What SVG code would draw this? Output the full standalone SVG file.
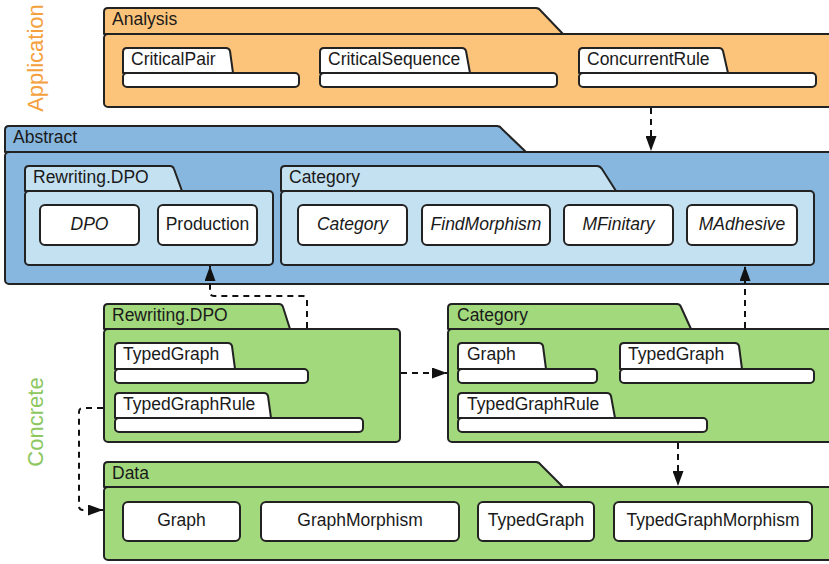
<svg xmlns="http://www.w3.org/2000/svg" width="829" height="564" viewBox="0 0 829 564">
<defs>
<marker id="ah" viewBox="0 0 15 11" refX="15" refY="5.5" markerWidth="15" markerHeight="11" markerUnits="userSpaceOnUse" orient="auto">
<path d="M0,0 L15,5.5 L0,11 Z" fill="#111"/>
</marker>
<style>
.s{stroke:#222;stroke-width:2;stroke-linejoin:round}
.or{fill:#FCC47B}
.bl{fill:#87B7DE}
.lb{fill:#C4E1F2}
.gr{fill:#A2D97D}
.wh{fill:#fff}
text{font-family:"Liberation Sans",Arial,sans-serif;font-size:17.5px;fill:#1a1a1a}
.it{font-style:italic}
.c{text-anchor:middle}
.side{font-size:22px}
.con{fill:none;stroke:#111;stroke-width:2;stroke-dasharray:6,5}
</style>
</defs>
<text class="side" transform="translate(43,58) rotate(-90)" text-anchor="middle" style="fill:#F5A03C">Application</text>
<text class="side" transform="translate(43,422) rotate(-90)" text-anchor="middle" style="fill:#8CC760">Concrete</text>

<g id="Analysis">
<path class="s or" d="M104,34 V12 Q104,8 108,8 H536 Q539,8 541,11 L563,34 Z"/>
<rect class="s or" x="104" y="34" width="740" height="73" rx="4"/>
<text x="112" y="25">Analysis</text>
</g>
<g id="CriticalPair">
<path class="s wh" d="M123,73 V52 Q123,48 127,48 H226 Q229,48 230,51 L233,73 Z"/>
<rect class="s wh" x="123" y="73" width="176" height="14" rx="4"/>
<text x="131" y="65">CriticalPair</text>
</g>
<g id="CriticalSequence">
<path class="s wh" d="M320,73 V52 Q320,48 324,48 H462 Q465,48 466,51 L470,73 Z"/>
<rect class="s wh" x="320" y="73" width="237" height="14" rx="4"/>
<text x="328" y="65">CriticalSequence</text>
</g>
<g id="ConcurrentRule">
<path class="s wh" d="M579,73 V52 Q579,48 583,48 H719 Q722,48 723,51 L728,73 Z"/>
<rect class="s wh" x="579" y="73" width="237" height="14" rx="4"/>
<text x="587" y="65">ConcurrentRule</text>
</g>

<g id="Abstract">
<path class="s bl" d="M5,152 V130 Q5,126 9,126 H497 Q500,126 502,129 L526,152 Z"/>
<rect class="s bl" x="5" y="152" width="840" height="132" rx="4"/>
<text x="13" y="143">Abstract</text>
</g>
<g id="Abstract.Rewriting.DPO">
<path class="s lb" d="M25,191 V170 Q25,166 29,166 H170 Q173,166 174,169 L182,191 Z"/>
<rect class="s lb" x="25" y="191" width="248" height="74" rx="4"/>
<text x="33" y="183">Rewriting.DPO</text>
</g>
<g id="DPO">
<rect class="s wh" x="40" y="205" width="99" height="40" rx="5"/>
<text class="c it" x="89.5" y="230">DPO</text>
</g>
<g id="Production">
<rect class="s wh" x="158" y="205" width="99" height="40" rx="5"/>
<text class="c" x="207.5" y="230">Production</text>
</g>
<g id="Abstract.Category">
<path class="s lb" d="M281,191 V170 Q281,166 285,166 H597 Q600,166 602,169 L616,191 Z"/>
<rect class="s lb" x="281" y="191" width="533" height="74" rx="4"/>
<text x="289" y="183">Category</text>
</g>
<g id="CategoryC">
<rect class="s wh" x="298" y="205" width="109" height="40" rx="5"/>
<text class="c it" x="352.5" y="230">Category</text>
</g>
<g id="FindMorphism">
<rect class="s wh" x="422" y="205" width="128" height="40" rx="5"/>
<text class="c it" x="486" y="230">FindMorphism</text>
</g>
<g id="MFinitary">
<rect class="s wh" x="564" y="205" width="109" height="40" rx="5"/>
<text class="c it" x="618.5" y="230">MFinitary</text>
</g>
<g id="MAdhesive">
<rect class="s wh" x="687" y="205" width="110" height="40" rx="5"/>
<text class="c it" x="742" y="230">MAdhesive</text>
</g>

<g id="Concrete.Rewriting.DPO">
<path class="s gr" d="M104,329 V308 Q104,304 108,304 H279 Q282,304 283,307 L290,329 Z"/>
<rect class="s gr" x="104" y="329" width="296" height="113" rx="4"/>
<text x="112" y="321">Rewriting.DPO</text>
</g>
<g id="RD.TypedGraph">
<path class="s wh" d="M115,369 V347 Q115,343 119,343 H228 Q231,343 232,346 L235,369 Z"/>
<rect class="s wh" x="115" y="369" width="193" height="14" rx="4"/>
<text x="123" y="360">TypedGraph</text>
</g>
<g id="RD.TypedGraphRule">
<path class="s wh" d="M115,418 V397 Q115,393 119,393 H264 Q267,393 268,396 L271,418 Z"/>
<rect class="s wh" x="115" y="418" width="248" height="14" rx="4"/>
<text x="123" y="410">TypedGraphRule</text>
</g>

<g id="Concrete.Category">
<path class="s gr" d="M448,329 V308 Q448,304 452,304 H677 Q680,304 681,307 L691,329 Z"/>
<rect class="s gr" x="448" y="329" width="396" height="113" rx="4"/>
<text x="457" y="321">Category</text>
</g>
<g id="CC.Graph">
<path class="s wh" d="M458,369 V347 Q458,343 462,343 H539 Q542,343 543,346 L546,369 Z"/>
<rect class="s wh" x="458" y="369" width="139" height="14" rx="4"/>
<text x="467" y="360">Graph</text>
</g>
<g id="CC.TypedGraph">
<path class="s wh" d="M620,369 V347 Q620,343 624,343 H735 Q738,343 739,346 L742,369 Z"/>
<rect class="s wh" x="620" y="369" width="194" height="14" rx="4"/>
<text x="628" y="360">TypedGraph</text>
</g>
<g id="CC.TypedGraphRule">
<path class="s wh" d="M458,418 V397 Q458,393 462,393 H607 Q610,393 611,396 L615,418 Z"/>
<rect class="s wh" x="458" y="418" width="249" height="14" rx="4"/>
<text x="467" y="410">TypedGraphRule</text>
</g>

<g id="Data">
<path class="s gr" d="M104,487 V466 Q104,462 108,462 H536 Q539,462 541,465 L563,487 Z"/>
<rect class="s gr" x="104" y="487" width="740" height="73" rx="4"/>
<text x="112" y="479">Data</text>
</g>
<g id="D.Graph">
<rect class="s wh" x="123" y="502" width="117" height="39" rx="5"/>
<text class="c" x="181.5" y="526">Graph</text>
</g>
<g id="D.GraphMorphism">
<rect class="s wh" x="261" y="502" width="198" height="39" rx="5"/>
<text class="c" x="360" y="526">GraphMorphism</text>
</g>
<g id="D.TypedGraph">
<rect class="s wh" x="478" y="502" width="116" height="39" rx="5"/>
<text class="c" x="536" y="526">TypedGraph</text>
</g>
<g id="D.TypedGraphMorphism">
<rect class="s wh" x="614" y="502" width="198" height="39" rx="5"/>
<text class="c" x="713" y="526">TypedGraphMorphism</text>
</g>

<g id="connectors">
<path class="con" d="M651,108 V151" marker-end="url(#ah)"/>
<path class="con" d="M307,328 V300 Q307,296 303,296 H214 Q210,296 210,292 V266" marker-end="url(#ah)"/>
<path class="con" d="M745,328 V266" marker-end="url(#ah)"/>
<path class="con" d="M401,373 H447" marker-end="url(#ah)"/>
<path class="con" d="M678,443 V486" marker-end="url(#ah)"/>
<path class="con" d="M103,408 H83 Q79,408 79,412 V506 Q79,510 83,510 H103" marker-end="url(#ah)"/>
</g>
</svg>
